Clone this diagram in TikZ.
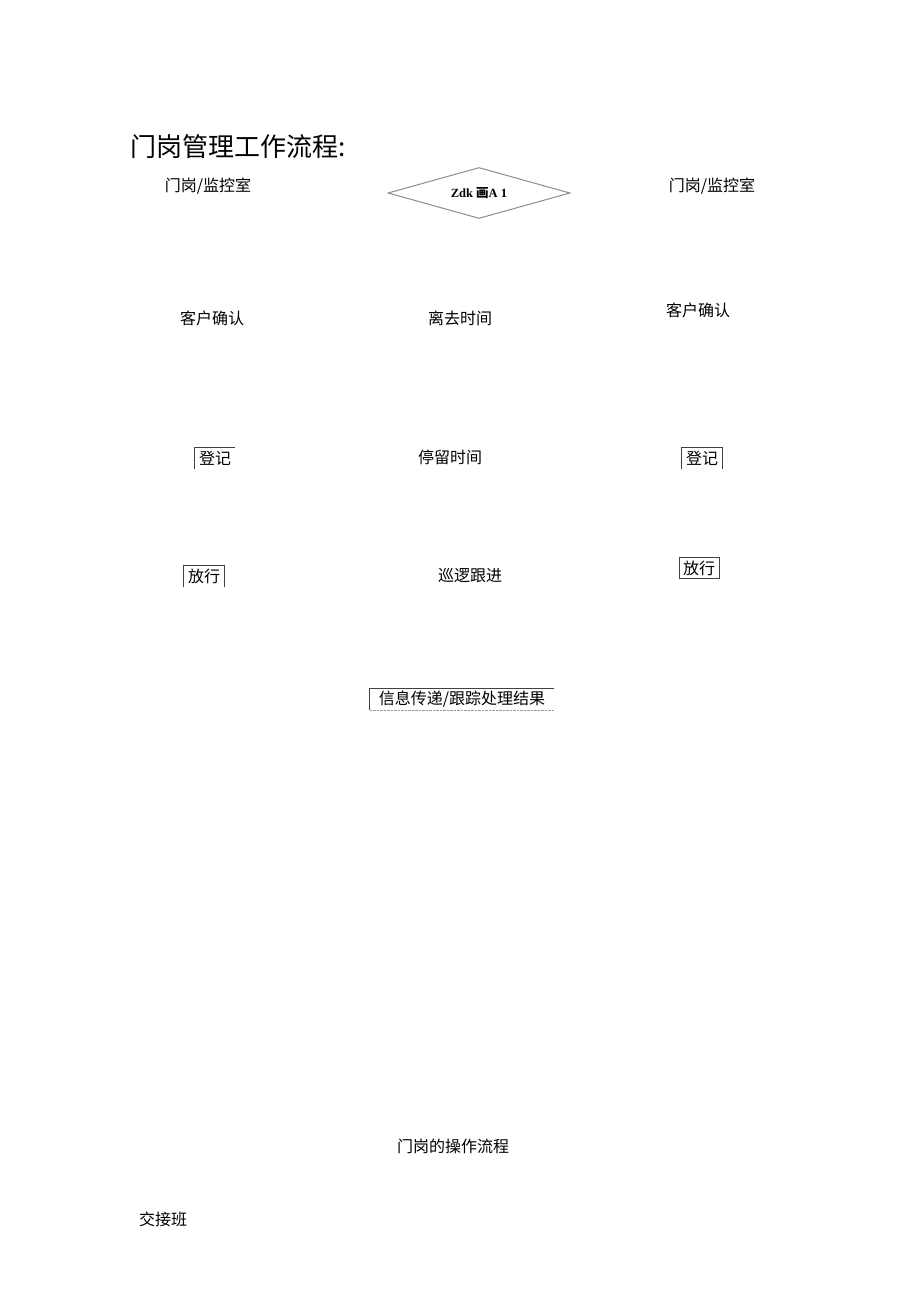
\documentclass[tikz,border=0pt]{standalone}
\usepackage{fontspec}
\setmainfont{Liberation Serif}
\newfontfamily\cjk{Noto Sans CJK SC}
\usetikzlibrary{shapes.geometric, positioning}

\begin{document}
\begin{tikzpicture}[
    x=1pt, y=-1pt,
    plain_text/.style={inner sep=0pt, font=\cjk\fontsize{16}{19}\selectfont},
    title_text/.style={inner sep=0pt, anchor=west, font=\cjk\fontsize{26}{30}\selectfont},
    gate_box/.style={inner sep=0pt, minimum width=40, minimum height=21, font=\cjk\fontsize{16}{19}\selectfont},
    box_edge/.style={draw=black!75, line width=0.8pt},
    check_diamond/.style={diamond, draw=black!45, line width=1pt, aspect=3.5, minimum width=182, minimum height=51, inner sep=0pt, font=\bfseries\fontsize{12.5}{14}\selectfont}
]
    \useasboundingbox (0,0) rectangle (920,1301);

    % Title
    \node[title_text] (title) at (130,147) {门岗管理工作流程:};

    % Top row
    \node[plain_text] (post1) at (208,186) {门岗/监控室};
    \node[check_diamond] (check) at (479,193) {Zdk {\cjk 画}A 1};
    \node[plain_text] (post2) at (712,186) {门岗/监控室};

    % Second row
    \node[plain_text] (confirm1) at (212,318) {客户确认};
    \node[plain_text] (leave) at (460,318) {离去时间};
    \node[plain_text] (confirm2) at (698,310) {客户确认};

    % Third row
    \node[gate_box] (reg1) at (215,458) {登记};
    \node[plain_text] (stay) at (450,457) {停留时间};
    \node[gate_box] (reg2) at (702,458) {登记};

    % Fourth row
    \node[gate_box] (pass1) at (204,576) {放行};
    \node[plain_text] (patrol) at (470,576) {巡逻跟进};
    \node[gate_box, box_edge] (pass2) at (699,568) {放行};

    % Result
    \node[gate_box, minimum width=184] (result) at (462,699) {信息传递/跟踪处理结果};

    % Box edges
    \draw[box_edge] (reg1.south west) -- (reg1.north west) -- (reg1.north east);
    \draw[box_edge] (reg2.south west) -- (reg2.north west) -- (reg2.north east) -- (reg2.south east);
    \draw[box_edge] (pass1.south west) -- (pass1.north west) -- (pass1.north east) -- (pass1.south east);
    \draw[box_edge] (result.south west) -- (result.north west) -- (result.north east);
    \draw[draw=black!40, densely dotted] (result.south west) -- (result.south east);

    % Lower texts
    \node[plain_text] (flow) at (453,1146) {门岗的操作流程};
    \node[plain_text] (shift) at (163,1219) {交接班};

\end{tikzpicture}
\end{document}
